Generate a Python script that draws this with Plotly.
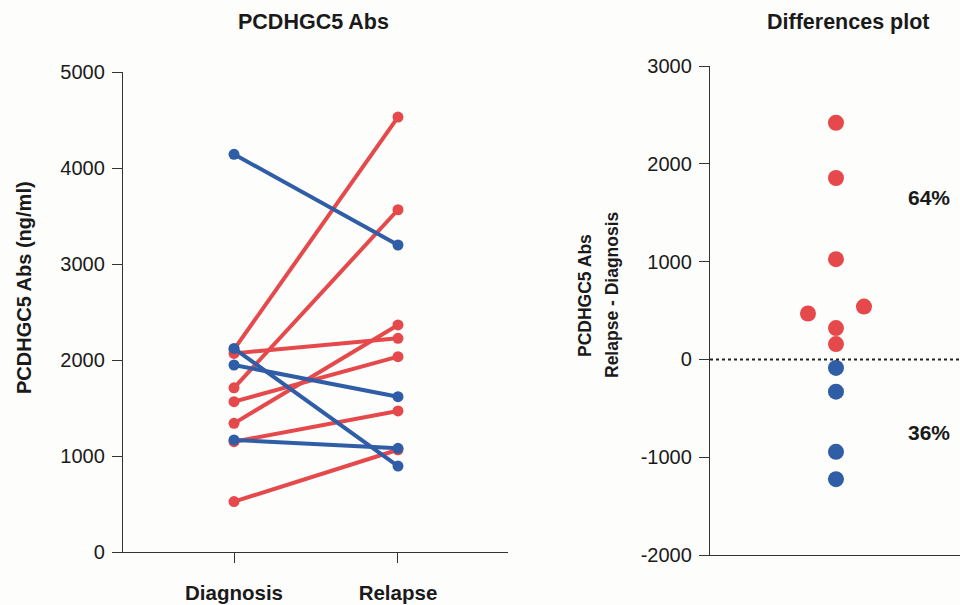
import plotly.graph_objects as go

# Data
timepoints = ["Diagnosis", "Relapse"]
red_diagnosis = [2110, 1710, 1340, 2069, 1566, 1149, 525]
red_relapse = [4530, 3565, 2365, 2226, 2035, 1469, 1065]
blue_diagnosis = [4143, 2120, 1948, 1167]
blue_relapse = [3198, 895, 1618, 1080]
red_jitter = [0, 0, 0, 0, -1, 0, 1]
blue_jitter = [0, 0, 0, 0]
pct_up = "64%"
pct_down = "36%"
left_yticks = [0, 1000, 2000, 3000, 4000, 5000]
right_yticks = [-2000, -1000, 0, 1000, 2000, 3000]

RED = "#E5494B"
BLUE = "#2F5DA6"
TXT = "#1a1a1a"
FONT = "Liberation Sans, Arial, sans-serif"

W, H = 960, 605
def px(v):
    return v / W
def py(v):
    return (H - v) / H

fig = go.Figure()

for d, r in zip(red_diagnosis, red_relapse):
    fig.add_trace(go.Scatter(x=[0, 1], y=[d, r], mode="lines+markers",
                             line=dict(color=RED, width=4),
                             marker=dict(color=RED, size=11),
                             xaxis="x", yaxis="y", showlegend=False))
for d, r in zip(blue_diagnosis, blue_relapse):
    fig.add_trace(go.Scatter(x=[0, 1], y=[d, r], mode="lines+markers",
                             line=dict(color=BLUE, width=4),
                             marker=dict(color=BLUE, size=11),
                             xaxis="x", yaxis="y", showlegend=False))

red_diff = [r - d for d, r in zip(red_diagnosis, red_relapse)]
blue_diff = [r - d for d, r in zip(blue_diagnosis, blue_relapse)]

fig.add_trace(go.Scatter(x=red_jitter, y=red_diff, mode="markers",
                         marker=dict(color=RED, size=16),
                         xaxis="x2", yaxis="y2", showlegend=False))
fig.add_trace(go.Scatter(x=blue_jitter, y=blue_diff, mode="markers",
                         marker=dict(color=BLUE, size=16),
                         xaxis="x2", yaxis="y2", showlegend=False))

# zero dotted line
fig.add_shape(type="line", xref="x2 domain", yref="y2", x0=0, x1=1, y0=0, y1=0,
              line=dict(color="#222", width=2, dash="dot"))

def yax(ticks_list, **kw):
    d = dict(showline=True, linecolor="#333", linewidth=1.3, ticks="outside",
             tickcolor="#333", ticklen=10, tickwidth=1.3, showgrid=False,
             zeroline=False, automargin=False, ticklabelstandoff=3,
             tickvals=ticks_list, ticktext=[str(t) for t in ticks_list],
             tickfont=dict(family=FONT, size=20, color=TXT))
    d.update(kw)
    return d

fig.update_layout(
    width=W, height=H, margin=dict(l=0, r=0, t=0, b=0), autosize=False,
    paper_bgcolor="#FDFDFC", plot_bgcolor="rgba(0,0,0,0)",
    xaxis=dict(domain=[px(123), px(508)], range=[-0.677, 1.671],
               tickvals=[0, 1], ticktext=["<b>%s</b>" % t for t in timepoints],
               anchor="y", showline=True, linecolor="#333", linewidth=1.3,
               ticks="outside", tickcolor="#333", ticklen=10, tickwidth=1.3,
               showgrid=False, zeroline=False, automargin=False, ticklabelstandoff=12,
               tickfont=dict(family=FONT, size=20.5, color=TXT)),
    yaxis=yax(left_yticks, domain=[py(552), py(72)], range=[0, 5000], anchor="x"),
    xaxis2=dict(domain=[px(710), 1.0], range=[-4.5, 4.43], showticklabels=False,
                showline=True, linecolor="#333", linewidth=1.3, ticks="",
                showgrid=False, zeroline=False, anchor="y2", automargin=False),
    yaxis2=yax(right_yticks, domain=[py(555), py(66)], range=[-2000, 3000], anchor="x2"),
    annotations=[
        dict(text="<b>PCDHGC5 Abs</b>", x=px(313), y=py(22), xref="paper", yref="paper",
             xanchor="center", yanchor="middle",
             showarrow=False, font=dict(family=FONT, size=21.5, color=TXT)),
        dict(text="<b>Differences plot</b>", x=px(848), y=py(22), xref="paper", yref="paper",
             xanchor="center", yanchor="middle",
             showarrow=False, font=dict(family=FONT, size=21.5, color=TXT)),
        dict(text="<b>PCDHGC5 Abs (ng/ml)</b>", x=px(24), y=py(288), xref="paper", yref="paper",
             xanchor="center", yanchor="middle", textangle=-90,
             showarrow=False, font=dict(family=FONT, size=20, color=TXT)),
        dict(text="<b>PCDHGC5 Abs</b>", x=px(585), y=py(296), xref="paper", yref="paper",
             xanchor="center", yanchor="middle", textangle=-90,
             showarrow=False, font=dict(family=FONT, size=17.5, color=TXT)),
        dict(text="<b>Relapse - Diagnosis</b>", x=px(612), y=py(295), xref="paper", yref="paper",
             xanchor="center", yanchor="middle", textangle=-90,
             showarrow=False, font=dict(family=FONT, size=17.5, color=TXT)),
        dict(text="<b>%s</b>" % pct_up, x=px(929), y=py(197), xref="paper", yref="paper",
             xanchor="center", yanchor="middle",
             showarrow=False, font=dict(family=FONT, size=21, color=TXT)),
        dict(text="<b>%s</b>" % pct_down, x=px(929), y=py(433), xref="paper", yref="paper",
             xanchor="center", yanchor="middle",
             showarrow=False, font=dict(family=FONT, size=21, color=TXT)),
    ],
)

fig.write_html("out.html", config={"displayModeBar": False},
               post_script="document.body.style.margin='0';document.body.style.overflow='hidden';")
